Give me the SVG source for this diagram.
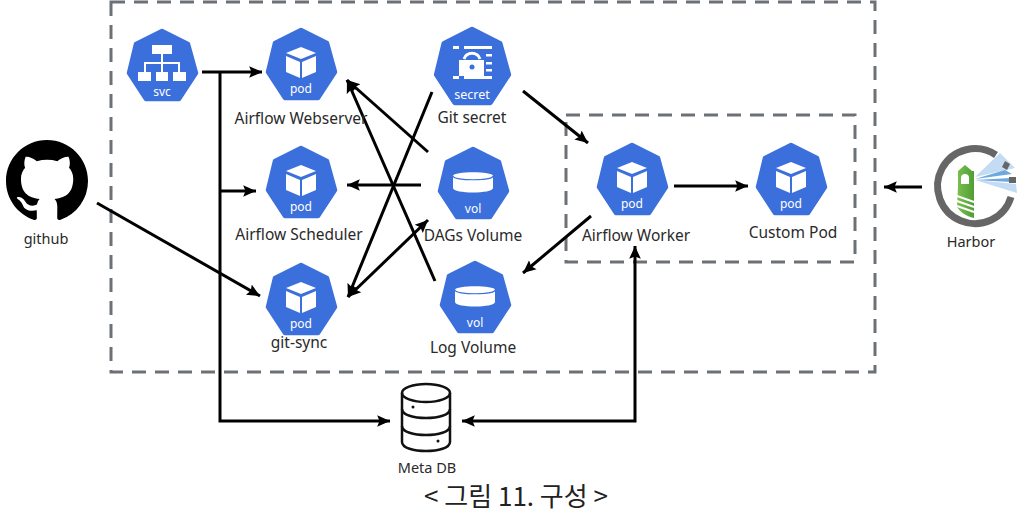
<svg xmlns="http://www.w3.org/2000/svg" width="1024" height="516" viewBox="0 0 1024 516">
<style>
text{font-family:"Noto Sans","Noto Sans CJK KR",sans-serif;text-anchor:middle}
.lb{font-size:15.500px;fill:#2a2a2a}
.sm{font-size:14.500px;fill:#2a2a2a}
.il{font-size:12px;fill:#fff}
.w{fill:#fff}
.c{fill:none;stroke:#000;stroke-width:3}
.h{marker-end:url(#a)}
.dash{fill:none;stroke:#6c7178;stroke-width:3;stroke-dasharray:14 9}
.hept{fill:#3b6fdc;stroke:#3b6fdc;stroke-width:4.500;stroke-linejoin:round}
.ln{fill:none;stroke:#fff;stroke-width:2}
</style>
<defs>
<marker id="a" markerUnits="userSpaceOnUse" markerWidth="14" markerHeight="14" refX="11" refY="6" orient="auto-start-reverse" viewBox="0 0 12 12"><path d="M0 1L11 6L0 11L2 6Z" fill="#000"/></marker>
<linearGradient id="g" x1="0" y1="0" x2="1" y2="0"><stop offset="0" stop-color="#7cbf4e"/><stop offset="1" stop-color="#4f9e35"/></linearGradient>
<polygon id="hp" class="hept" points="0,-34 26,-21 34,8 17,34 -16,34 -33,8 -26,-21"/>
<g id="cube"><path class="w" d="M0-17L15-11L0-5L-15-11Z"/><path class="w" d="M-15-8L-1-2V14L-15 8Z"/><path class="w" d="M15-8L1-2V14L15 8Z"/></g>
<g id="cyl"><path class="w" d="M-20-7C-20-12 20-12 20-7V5C20 11-20 11-20 5Z"/><path d="M-20-7C-20-2 20-2 20-7" fill="none" stroke="#3b6fdc" stroke-width="1.200"/></g>
</defs>

<g id="boundaries">
<rect class="dash" x="111" y="2" width="764" height="370"/>
<rect class="dash" x="566" y="115" width="289" height="147"/>
</g>

<g id="connectors">
<path class="c h" d="M202 72H262"/>
<path class="c h" d="M220 72V421H390"/>
<path class="c h" d="M220 191H256"/>
<path class="c h" d="M428 152L347 80"/>
<path class="c h" d="M435 281L347 80"/>
<path class="c h" d="M421 185H347"/>
<path class="c h" d="M432 92L348 297"/>
<path class="c" style="marker-start:url(#a);marker-end:url(#a)" d="M348 297L428 220"/>
<path class="c h" d="M523 91L588 143"/>
<path class="c h" d="M591 216L523 273"/>
<path class="c h" d="M674 186H748"/>
<path class="c h" d="M922 187H884"/>
<path class="c h" d="M97 203L260 296"/>
<path class="c" style="marker-start:url(#a);marker-end:url(#a)" d="M635 246V421H462"/>
</g>

<g id="svc" transform="translate(162,65)">
<use href="#hp"/>
<path class="w" d="M-10-20H10V-11H-10ZM-24 7H-11V16H-24ZM-6 7H6V16H-6ZM11 7H24V16H11Z"/>
<path class="ln" d="M0-11V7M-17 7V-2H17V7"/>
<text class="il" x="0" y="31">svc</text>
</g>
<g id="webserver" transform="translate(301,64)">
<use href="#hp"/><use href="#cube"/><text class="il" x="0" y="29">pod</text>
</g>
<text class="lb" x="301" y="124">Airflow Webserver</text>
<g id="scheduler" transform="translate(301,182)">
<use href="#hp"/><use href="#cube"/><text class="il" x="0" y="29">pod</text>
</g>
<text class="lb" x="299" y="240">Airflow Scheduler</text>
<g id="gitsync" transform="translate(301,299)">
<use href="#hp"/><use href="#cube"/><text class="il" x="0" y="29">pod</text>
</g>
<text class="lb" x="299" y="348">git-sync</text>
<g id="secret" transform="translate(472,66)">
<g transform="scale(1.080)"><use href="#hp"/></g>
<path class="w" d="M-19-20H-13V-17H-19ZM-8-20H20V-17H-8ZM-19 10H-13V13H-19ZM-8 10H20V13H-8ZM14-12H20V-9.500H14ZM14-4H20V-1.500H14ZM14 3H20V5.500H14ZM-13-6H12V10H-13Z"/>
<path d="M-8-7A8.500 8.500 0 0 1 8-7" fill="none" stroke="#fff" stroke-width="3"/>
<circle cx="0" cy="1" r="2.500" fill="#3b6fdc"/>
<text x="0" y="33" style="font-size:12.500px;fill:#fff">secret</text>
</g>
<text class="lb" x="472" y="123">Git secret</text>
<g id="dags" transform="translate(473,183)">
<use href="#hp"/><use href="#cyl"/><text class="il" x="0" y="30">vol</text>
</g>
<text class="lb" x="473" y="241">DAGs Volume</text>
<g id="log" transform="translate(475,297)">
<use href="#hp"/><use href="#cyl"/><text class="il" x="0" y="30">vol</text>
</g>
<text class="lb" x="473" y="353">Log Volume</text>
<g id="worker" transform="translate(632,179)">
<use href="#hp"/><use href="#cube"/><text class="il" x="0" y="29">pod</text>
</g>
<text class="lb" x="636" y="241">Airflow Worker</text>
<g id="custom" transform="translate(791,179)">
<use href="#hp"/><use href="#cube"/><text class="il" x="0" y="29">pod</text>
</g>
<text class="lb" x="793" y="238">Custom Pod</text>

<g id="github">
<path transform="translate(6,140) scale(5.125)" fill="#000" d="M8 0C3.58 0 0 3.58 0 8c0 3.54 2.29 6.53 5.47 7.59.4.07.55-.17.55-.38 0-.19-.01-.82-.01-1.490-2.010.37-2.530-.49-2.690-.94-.09-.23-.48-.94-.82-1.130-.28-.15-.68-.52-.01-.53.63-.01 1.080.58 1.230.82.72 1.210 1.870.87 2.330.66.07-.52.28-.87.51-1.070-1.780-.2-3.640-.89-3.640-3.950 0-.87.31-1.590.82-2.150-.08-.2-.36-1.020.08-2.120 0 0 .67-.21 2.200.82.64-.18 1.320-.27 2-.27.68 0 1.360.09 2 .27 1.530-1.040 2.200-.82 2.200-.82.44 1.100.16 1.920.08 2.120.51.56.82 1.270.82 2.150 0 3.070-1.870 3.750-3.650 3.950.29.25.54.73.54 1.480 0 1.070-.01 1.930-.01 2.200 0 .21.15.46.55.38A8.013 8.013 0 0016 8c0-4.420-3.580-8-8-8z"/>
<text class="sm" x="46" y="244">github</text>
</g>

<g id="harbor">
<path d="M996 155A37.500 37.500 0 1 0 1011 197" fill="none" stroke="#666" stroke-width="7"/>
<path d="M975 177L1000 153L1015 168Z" fill="#c3dcf3"/>
<path d="M975 179L1005 170L1012 174Z" fill="#6ea8e0"/>
<path d="M975 180L1016 184L1017 193Z" fill="#c3dcf3"/>
<path d="M975 180L1011 178V182Z" fill="#6ea8e0"/>
<path d="M1005 161L1010 164L1007 170L1002 167ZM1009 177H1016V183H1009Z" fill="#666"/>
<path d="M965 165L972 171H974V218C966 216 960 212 957 207L958 186V171H958Z" fill="url(#g)"/>
<path d="M961 178A4 4 0 0 1 969 178V184H961Z" fill="#fff"/>
<path d="M957 196L974 202M957 201L974 207M957 206L974 212" stroke="#fff" stroke-width="2" fill="none"/>
<text class="sm" x="971" y="247">Harbor</text>
</g>

<g id="metadb">
<g fill="none" stroke="#111" stroke-width="2.500">
<ellipse cx="426" cy="393" rx="24" ry="9"/>
<path d="M402 393V442C402 454 450 454 450 442V393"/>
<path d="M402 409C402 421 450 421 450 409"/>
<path d="M402 426C402 438 450 438 450 426"/>
</g>
<circle cx="413" cy="407" r="1.500" fill="#111"/><circle cx="438" cy="441" r="1.500" fill="#111"/>
<text class="sm" x="427" y="473">Meta DB</text>
</g>

<text x="516" y="506" style="font-size:26px;font-weight:400;fill:#222;font-family:'Noto Sans CJK KR','Noto Sans',sans-serif">&lt; 그림 11. 구성 &gt;</text>
</svg>
